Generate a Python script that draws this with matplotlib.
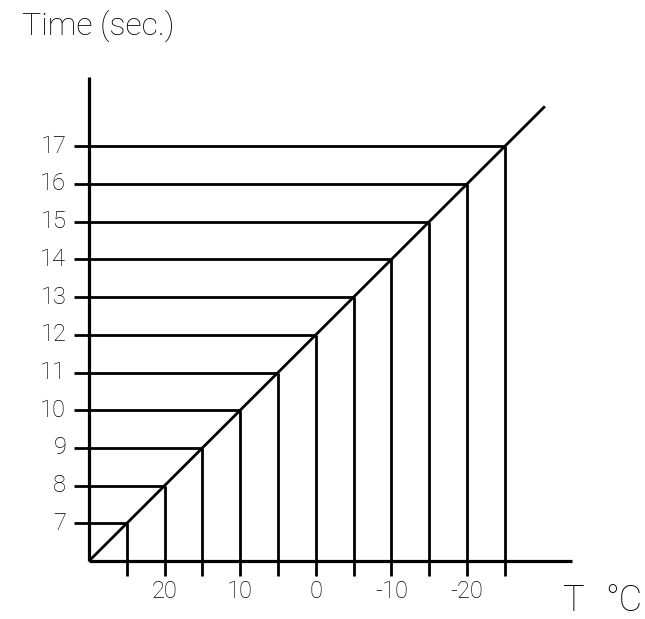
import matplotlib
matplotlib.use("Agg")
import matplotlib.pyplot as plt

# --- Data ---
times = [7, 8, 9, 10, 11, 12, 13, 14, 15, 16, 17]
temps = [25, 20, 15, 10, 5, 0, -5, -10, -15, -20, -25]
temp_labels = [20, 10, 0, -10, -20]
time_labels = [7, 8, 9, 10, 11, 12, 13, 14, 15, 16, 17]

t0, T0 = 6, 30  # origin of the diagram

fam = ["Roboto", "DejaVu Sans"]
font = dict(family=fam, fontweight="light", color="black")

fig = plt.figure(figsize=(6.45, 6.19), dpi=100)
ax = fig.add_axes([0, 0, 1, 1])
ax.set_xlim(41.77, -43.54)
ax.set_ylim(4.462, 20.88)
ax.axis("off")

lw = 2.0
# axes
ax.plot([T0, T0], [t0, 18.84], color="black", lw=lw + 0.3, solid_capstyle="butt")
ax.plot([T0, -33.9], [t0, t0], color="black", lw=lw + 0.3, solid_capstyle="butt")
# diagonal
ax.plot([T0, -30.3], [t0, t0 + (T0 + 30.3) / 5], color="black", lw=lw, solid_capstyle="butt")

# horizontal lines (time) and vertical lines (temperature)
for t, T in zip(times, temps):
    ax.plot([32, T], [t, t], color="black", lw=lw, solid_capstyle="butt")
    ax.plot([T, T], [t, 5.6], color="black", lw=lw, solid_capstyle="butt")

for t in time_labels:
    ax.text(33.0, t, str(t), ha="right", va="center", fontsize=17, **font)

for T in temp_labels:
    ax.text(T, 5.18, str(T), ha="center", va="center", fontsize=17, **font)

fig.text(22 / 645, 1 - 26 / 619, "Time (sec.)", ha="left", va="center", fontsize=23, **font)
fig.text(574 / 645, 1 - 601 / 619, "T", ha="center", va="center", fontsize=26, **font)
fig.text(642 / 645, 1 - 601 / 619, "°C", ha="right", va="center", fontsize=26, **font)

fig.savefig("out.png", dpi=100)
